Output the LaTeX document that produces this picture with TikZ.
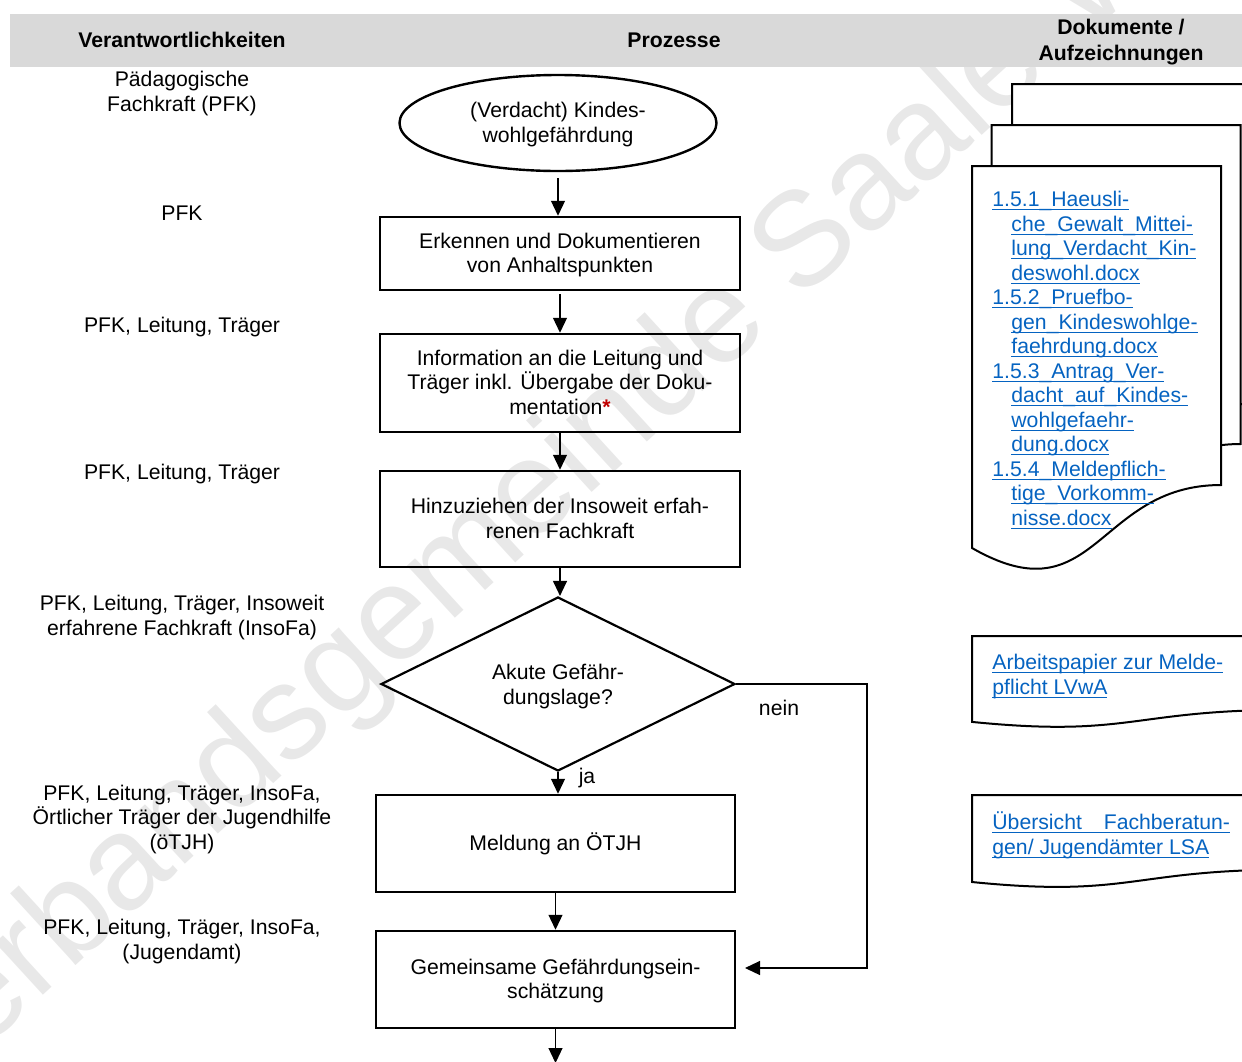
\documentclass[tikz,border=0pt]{standalone}
\usepackage{fontspec}
\setmainfont{Liberation Sans}
\usetikzlibrary{shapes.geometric,arrows.meta}
\definecolor{linkblue}{HTML}{0563C1}
\definecolor{hdrgray}{HTML}{D9D9D9}
\definecolor{wmgray}{HTML}{E8E8E8}
\definecolor{starred}{HTML}{C00000}
\newcommand\lk[1]{\setbox0\hbox{#1}\rlap{\rule[-1.6pt]{\wd0}{0.5pt}}\box0}
\newcommand\firststrut{\rule{0pt}{9pt}}
\newcommand\ts{\rule{0pt}{9.25pt}}
\newcommand\bs{\rule[-2.5pt]{0pt}{0pt}}
\begin{document}
\begin{tikzpicture}[x=0.5pt,y=-0.5pt,
  every node/.style={font=\fontsize{10.6pt}{12.25pt}\selectfont},
  proc/.style={draw, line width=1.25pt, align=center, inner sep=0pt},
  arr/.style={line width=0.6pt, -{Triangle[length=7.5pt,width=7pt]}},
  role/.style={align=center, inner sep=0pt},
  hd/.style={align=center, inner sep=0pt, font=\bfseries\fontsize{10.6pt}{13pt}\selectfont},
  docshape/.style={draw, line width=1pt, fill=white},
  doctext/.style={align=left, anchor=north west, inner sep=0pt, text=linkblue},
  lbl/.style={inner sep=0pt}]
\useasboundingbox (0,0) rectangle (1242,1061);
\clip (0,0) rectangle (1242,1061);
% watermark
\node[rotate=42.5, text=wmgray, inner sep=0pt, font=\fontsize{67pt}{67pt}\selectfont] (wm) at (636,405) {Verbandsgemeinde Saale-Wipper};
% header
\fill[hdrgray] (10,14) rectangle (1242,67);
\node[hd] (h1) at (182,41) {\ts Verantwortlichkeiten\bs};
\node[hd] (h2) at (674,41) {\ts Prozesse\bs};
\node[hd] (h3) at (1121,41) {\ts Dokumente /\\Aufzeichnungen\bs};
% roles
\node[role] (r0) at (182,92) {\ts Pädagogische\\Fachkraft (PFK)\bs};
\node[role] (r1) at (182,214) {\ts PFK\bs};
\node[role] (r2) at (182,326) {\ts PFK, Leitung, Träger\bs};
\node[role] (r3) at (182,473) {\ts PFK, Leitung, Träger\bs};
\node[role] (r4) at (182,616) {\ts PFK, Leitung, Träger, Insoweit\\erfahrene Fachkraft (InsoFa)\bs};
\node[role] (r5) at (182,818) {\ts PFK, Leitung, Träger, InsoFa,\\Örtlicher Träger der Jugendhilfe\\(öTJH)\bs};
\node[role] (r6) at (182,940) {\ts PFK, Leitung, Träger, InsoFa,\\(Jugendamt)\bs};
% process
\node[proc, ellipse, line width=1.2pt, minimum width=158.5pt, minimum height=48pt] (e0) at (558,123) {\ts(Verdacht) Kindes-\\wohlgefährdung\bs};
\node[proc, minimum width=180pt, minimum height=36.5pt] (b1) at (560,253.5) {\ts Erkennen und Dokumentieren\\von Anhaltspunkten\bs};
\node[proc, minimum width=180pt, minimum height=49pt] (b2) at (560,383) {\ts Information an die Leitung und\\Träger inkl. Übergabe der Doku-\\mentation\textcolor{starred}{\textbf{*}}\bs};
\node[proc, minimum width=180pt, minimum height=48pt] (b3) at (560,519) {\ts Hinzuziehen der Insoweit erfah-\\renen Fachkraft\bs};
\node[proc, diamond, shape aspect=2, line width=1.1pt, minimum width=177pt, minimum height=87pt] (d) at (558,684) {\rule{0pt}{10.5pt}Akute Gefähr-\\dungslage?\bs};
\node[proc, minimum width=179.5pt, minimum height=48.5pt] (b4) at (555.5,843.5) {\ts Meldung an ÖTJH\bs};
\node[proc, minimum width=179.5pt, minimum height=48.5pt] (b5) at (555.5,979.5) {\ts Gemeinsame Gefährdungsein-\\schätzung\bs};
\node[lbl] (ja) at (587,777) {\ts ja\bs};
\node[lbl] (nein) at (779,709) {\ts nein\bs};
\coordinate (endc) at (555.5,1063);
\coordinate (nk) at (867,684);
\coordinate (nt) at (745,968);
% connectors
\draw[arr] ([yshift=-3pt]e0.south) -- (e0.south |- b1.north);
\draw[arr] ([yshift=-1.5pt]b1.south) -- (b1.south |- b2.north);
\draw[arr] (b2.south) -- (b2.south |- b3.north);
\draw[arr] (b3.south) -- (b3.south |- d.north);
\draw[arr] (d.south) -- (d.south |- b4.north);
\draw[arr] (b4.south) -- (b4.south |- b5.north);
\draw[arr] (b5.south) -- (endc);
\draw[arr] (d.east) -- (nk) -- (nk |- nt) -- (nt);
% documents (stacked)
\begin{scope}[shift={(40,-82)}]
\draw[docshape] (972,166) -- (1221,166) -- (1221,485) .. controls (1096,485) and (1096,619) .. (972,548) -- cycle;
\end{scope}
\begin{scope}[shift={(19.5,-41)}]
\draw[docshape] (972,166) -- (1221,166) -- (1221,485) .. controls (1096,485) and (1096,619) .. (972,548) -- cycle;
\end{scope}
\draw[docshape] (972,166) -- (1221,166) -- (1221,485) .. controls (1096,485) and (1096,619) .. (972,548) -- cycle;
\draw[docshape] (972,636) -- (1290,636) -- (1290,709.8) .. controls (1131,709.8) and (1131,737.8) .. (972,721.9) -- cycle;
\draw[docshape] (972,795) -- (1290,795) -- (1290,869.6) .. controls (1131,869.6) and (1131,898) .. (972,882) -- cycle;
\node[doctext] (t1) at (992,188.5) {\firststrut\lk{1.5.1\_Haeusli-}\\
\hspace*{9.5pt}\lk{che\_Gewalt\_Mittei-}\\
\hspace*{9.5pt}\lk{lung\_Verdacht\_Kin-}\\
\hspace*{9.5pt}\lk{deswohl.docx}\\
\lk{1.5.2\_Pruefbo-}\\
\hspace*{9.5pt}\lk{gen\_Kindeswohlge-}\\
\hspace*{9.5pt}\lk{faehrdung.docx}\\
\lk{1.5.3\_Antrag\_Ver-}\\
\hspace*{9.5pt}\lk{dacht\_auf\_Kindes-}\\
\hspace*{9.5pt}\lk{wohlgefaehr-}\\
\hspace*{9.5pt}\lk{dung.docx}\\
\lk{1.5.4\_Meldepflich-}\\
\hspace*{9.5pt}\lk{tige\_Vorkomm-}\\
\hspace*{9.5pt}\lk{nisse.docx}};
\node[doctext] (t2) at (992,651.5) {\firststrut\lk{Arbeitspapier zur Melde-}\\\lk{pflicht LVwA}};
\node[doctext] (t3) at (992,811.5) {\firststrut\lk{Übersicht\hspace{8pt} Fachberatun-}\\\lk{gen/ Jugendämter LSA}};
\end{tikzpicture}
\end{document}
